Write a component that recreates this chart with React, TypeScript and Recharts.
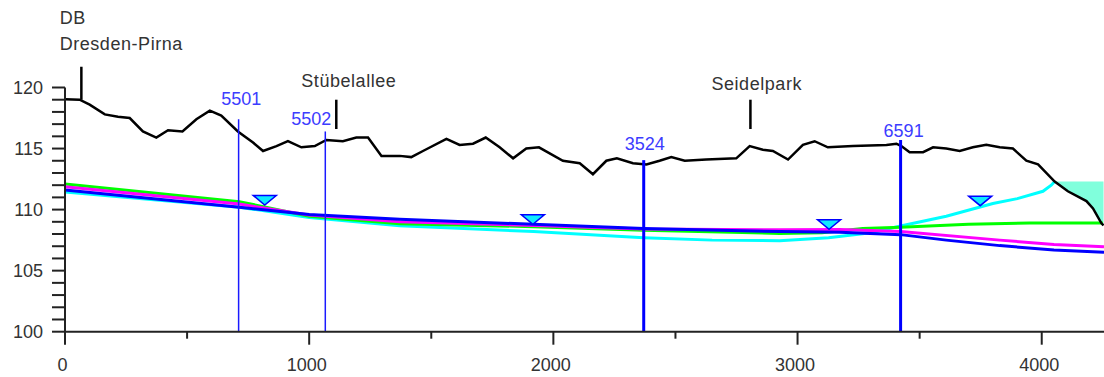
import React from "react";
import { ComposedChart, Line, Area, Scatter, XAxis, YAxis, ReferenceLine } from "recharts";

const FONT = '"Liberation Sans", Arial, Helvetica, sans-serif';

// ---- data ----
const terrainX = [0, 60, 101, 163, 217, 265, 319, 374, 422, 481, 538, 593, 640, 708, 770, 811, 866, 913, 968, 1023, 1070, 1138, 1193, 1241, 1296, 1371, 1418, 1466, 1562, 1616, 1671, 1723, 1780, 1835, 1889, 1941, 2039, 2108, 2162, 2217, 2260, 2326, 2381, 2435, 2483, 2538, 2626, 2749, 2804, 2858, 2899, 2961, 3022, 3070, 3124, 3227, 3364, 3405, 3425, 3459, 3514, 3555, 3609, 3664, 3718, 3773, 3828, 3882, 3937, 3985, 4053, 4107, 4183, 4210, 4244, 4253];
const terrainZ = [119.04, 119.0, 118.6, 117.8, 117.6, 117.5, 116.4, 115.9, 116.5, 116.4, 117.4, 118.1, 117.7, 116.4, 115.5, 114.8, 115.2, 115.6, 115.1, 115.2, 115.7, 115.6, 115.9, 115.9, 114.4, 114.4, 114.3, 114.8, 115.8, 115.3, 115.4, 115.9, 115.1, 114.2, 115.0, 115.1, 114.0, 113.8, 112.9, 114.0, 114.2, 113.8, 113.7, 114.0, 114.3, 114.0, 114.1, 114.2, 115.2, 114.9, 114.8, 114.1, 115.3, 115.6, 115.1, 115.2, 115.3, 115.4, 115.2, 114.7, 114.7, 115.1, 115.0, 114.8, 115.1, 115.3, 115.1, 115.0, 114.0, 113.7, 112.3, 111.5, 110.7, 110.1, 108.9, 108.7];

const floodX = [4053, 4107, 4183, 4210, 4244, 4253];
const floodLow = [112.3, 111.5, 110.7, 110.1, 108.9, 108.7];
const floodLevel = 112.3;

const blueX = [0, 714, 1000, 1371, 1919, 2370, 2927, 3174, 3422, 3609, 3828, 4050, 4255];
const blueZ = [111.6, 110.2, 109.6, 109.2, 108.8, 108.45, 108.2, 108.15, 107.95, 107.5, 107.05, 106.7, 106.5];
const magentaX = [0, 714, 1000, 1371, 1919, 2370, 2927, 3174, 3422, 3828, 4050, 4255];
const magentaZ = [111.88, 110.45, 109.55, 109.0, 108.7, 108.42, 108.35, 108.36, 108.2, 107.5, 107.15, 106.95];
const greenX = [0, 714, 1000, 1371, 1919, 2370, 2927, 3100, 3267, 3422, 3700, 3950, 4250];
const greenZ = [112.1, 110.65, 109.45, 108.85, 108.6, 108.3, 108.05, 108.1, 108.45, 108.55, 108.8, 108.9, 108.9];
const cyanX = [0, 714, 1000, 1371, 1919, 2370, 2650, 2927, 3127, 3300, 3422, 3609, 3800, 3900, 4005, 4039, 4053];
const cyanZ = [111.45, 110.2, 109.35, 108.68, 108.2, 107.7, 107.5, 107.45, 107.7, 108.1, 108.65, 109.45, 110.5, 110.9, 111.5, 112.0, 112.3];

const levelMarkX = [818, 1916, 3129, 3748];
const levelMarkZ = [110.38, 108.8, 108.39, 110.32];

const stationNames = ["5501", "5502", "3524", "6591"];
const stationX = [711, 1066, 2370, 3422];
const stationTop = [117.4, 116.4, 114.05, 115.7];
const stationMajor = [false, false, true, true];

const placeNames = [["DB", "Dresden-Pirna"], ["Stübelallee"], ["Seidelpark"]];
const placeX = [67, 1111, 2807];
const placeBottom = [119.0, 116.6, 116.6];
const placeTop = [121.7, 119.0, 119.0];

const xTicks = [0, 500, 1000, 1500, 2000, 2500, 3000, 3500, 4000];
const yTicks = [100, 101, 102, 103, 104, 105, 106, 107, 108, 109, 110, 111, 112, 113, 114, 115, 116, 117, 118, 119, 120];

const zip = (xs: number[], ys: number[]) => xs.map((x, i) => ({ x, z: ys[i] }));
const terrain = zip(terrainX, terrainZ);
const blue = zip(blueX, blueZ);
const magenta = zip(magentaX, magentaZ);
const green = zip(greenX, greenZ);
const cyan = zip(cyanX, cyanZ);
const levelMarks = zip(levelMarkX, levelMarkZ);
const flood = floodX.map((x, i) => ({ x, range: [floodLow[i], floodLevel] }));

// label offsets (styling)
const stationLabelDx = [-17.3, -34, -19, -17];
const stationLabelDy = [-14, -6.7, -10, -3.4];
const placeLabelDx = [-21.7, -35, -39];
const placeLabelDy = [-16.8, -12.7, -10];

const AXIS = "#222";
const TEXT = "#333";

const YTick = (props: any) => {
  const { x, y, payload } = props;
  const v = payload.value;
  return (
    <g>
      <line x1={x - 13} x2={x} y1={y} y2={y} stroke={AXIS} strokeWidth={2} />
      {v % 5 === 0 && (
        <text x={x - 22} y={y + 6.5} textAnchor="end" fill={TEXT} fontSize={18} fontFamily={FONT}>
          {v}
        </text>
      )}
    </g>
  );
};

const XTick = (props: any) => {
  const { x, y, payload } = props;
  const v = payload.value;
  const major = v % 1000 === 0;
  return (
    <g>
      <line x1={x} x2={x} y1={y} y2={y + (major ? 13 : 7)} stroke={AXIS} strokeWidth={2} />
      {major && (
        <text x={x - 2.5} y={y + 38.8} textAnchor="middle" fill={TEXT} fontSize={18} fontFamily={FONT}>
          {v}
        </text>
      )}
    </g>
  );
};

const MarkText = (props: any) => {
  const { viewBox, lines, dx, dy, fill, spacing } = props;
  if (!viewBox) return null;
  const x = viewBox.x + dx;
  const y = viewBox.y + dy;
  const n = lines.length;
  return (
    <g>
      {lines.map((t: string, i: number) => (
        <text
          key={i}
          x={x}
          y={y - (n - 1 - i) * 25.5}
          fill={fill}
          fontSize={18}
          fontFamily={FONT}
          letterSpacing={spacing}
        >
          {t}
        </text>
      ))}
    </g>
  );
};

const Triangle = (props: any) => {
  const { cx, cy } = props;
  if (cx == null || cy == null) return null;
  const w = 11.5;
  const h = 9.5;
  return (
    <path
      d={`M${cx - w},${cy - h} L${cx + w},${cy - h} L${cx},${cy} Z`}
      fill="#10eaff"
      stroke="#0000ff"
      strokeWidth={1.5}
      strokeLinejoin="miter"
    />
  );
};

export default function App() {
  return (
    <div style={{ position: "absolute", left: 0, top: 0, width: 1104, height: 377, overflow: "hidden", background: "#fff" }}>
      <ComposedChart width={1104} height={377} margin={{ top: 87.5, right: 0, bottom: 0, left: 5 }}>
        <XAxis
          type="number"
          dataKey="x"
          domain={[0, 4255]}
          ticks={xTicks}
          interval={0}
          height={45.3}
          tickSize={0}
          tickMargin={0}
          tickLine={false}
          axisLine={{ stroke: AXIS, strokeWidth: 2 }}
          tick={<XTick />}
          allowDataOverflow
        />
        <YAxis
          type="number"
          domain={[100, 120]}
          ticks={yTicks}
          interval={0}
          width={60}
          tickSize={0}
          tickMargin={0}
          tickLine={false}
          axisLine={{ stroke: AXIS, strokeWidth: 2 }}
          tick={<YTick />}
          allowDataOverflow
        />
        <Area
          data={flood}
          dataKey="range"
          type="linear"
          fill="#80ffdc"
          fillOpacity={1}
          stroke="none"
          isAnimationActive={false}
          activeDot={false}
          dot={false}
        />
        <Line data={cyan} dataKey="z" type="linear" stroke="#00ffff" strokeWidth={3} dot={false} activeDot={false} isAnimationActive={false} />
        <Line data={green} dataKey="z" type="linear" stroke="#00ff00" strokeWidth={3} dot={false} activeDot={false} isAnimationActive={false} />
        <Line data={magenta} dataKey="z" type="linear" stroke="#ff00ff" strokeWidth={3} dot={false} activeDot={false} isAnimationActive={false} />
        <Line data={blue} dataKey="z" type="linear" stroke="#0000ff" strokeWidth={3} dot={false} activeDot={false} isAnimationActive={false} />
        <Line data={terrain} dataKey="z" type="linear" stroke="#000" strokeWidth={2.5} dot={false} activeDot={false} isAnimationActive={false} />
        {stationNames.map((name, i) => (
          <ReferenceLine
            key={name}
            ifOverflow="visible"
            segment={[
              { x: stationX[i], y: 100 },
              { x: stationX[i], y: stationTop[i] },
            ]}
            stroke={stationMajor[i] ? "#0000ff" : "#1a1aff"}
            strokeWidth={stationMajor[i] ? 3 : 1.5}
            label={<MarkText lines={[name]} dx={stationLabelDx[i]} dy={stationLabelDy[i]} fill="#3c3cff" spacing={0} />}
          />
        ))}
        {placeNames.map((lines, i) => (
          <ReferenceLine
            key={lines.join("-")}
            ifOverflow="visible"
            segment={[
              { x: placeX[i], y: placeBottom[i] },
              { x: placeX[i], y: placeTop[i] },
            ]}
            stroke="#000"
            strokeWidth={2.5}
            label={<MarkText lines={lines} dx={placeLabelDx[i]} dy={placeLabelDy[i]} fill={TEXT} spacing={0.55} />}
          />
        ))}
        <Scatter data={levelMarks} dataKey="z" shape={<Triangle />} isAnimationActive={false} />
      </ComposedChart>
    </div>
  );
}
